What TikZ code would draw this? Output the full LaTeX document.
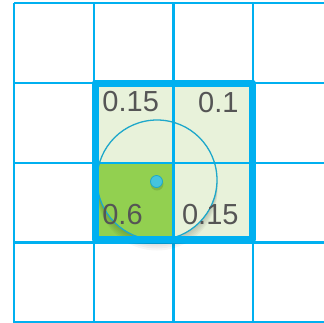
\documentclass[tikz,border=0pt]{standalone}
\usepackage{fontspec}
\setmainfont{Liberation Sans}
\definecolor{gridblue}{HTML}{00B0F0}
\definecolor{lightgreen}{HTML}{E8F2DA}
\definecolor{midgreen}{HTML}{92D050}
\definecolor{ringblue}{HTML}{1EA8CA}
\definecolor{dotfill}{HTML}{45C4DE}
\definecolor{txtgray}{HTML}{555555}
\tikzset{
  gridline/.style={draw=gridblue, line width=2.2pt},
  frame/.style={draw=gridblue, line width=7pt, line join=round},
  val/.style={font=\fontsize{29}{29}\selectfont, text=txtgray, inner sep=0pt},
}
\begin{document}
\begin{tikzpicture}[x=1pt,y=-1pt]
\useasboundingbox (0,0) rectangle (324,322);
% cell fills
\fill[lightgreen] (94,83) rectangle (253.2,242.4);
\fill[midgreen] (94,162.7) rectangle (173.5,242.4);
% grid
\foreach \gx in {14.1,93.8,173.5,253.2} {\draw[gridline] (\gx,3.3) -- (\gx,330);}
\foreach \gy in {3.3,83,162.7,242.4,322.1} {\draw[gridline] (14.1,\gy) -- (330,\gy);}
% circle shadow (below, outside circle)
\begin{scope}
  \clip (0,180) rectangle (324,322);
  \foreach \d in {2,4,6,8,10} {
    \fill[black, opacity=0.035, even odd rule] (157,180+\d) circle (60.5) (157,180) circle (60);
  }
\end{scope}
% circle
\coordinate (c) at (157,180);
\draw[ringblue, line width=1.3pt] (c) circle (60);
% frame
\draw[frame] (95,83) rectangle (252.8,239);
% centre dot
\fill[black, opacity=0.12] (157,184) circle (6.5);
\node[circle, minimum size=12pt, inner sep=0pt, fill=dotfill, draw=ringblue, line width=0.8pt] (dot) at (156.5,181.5) {};
% values
\node[val] (tl) at (130.7,102) {0.15};
\node[val] (tr) at (218.3,102.5) {0.1};
\node[val] (bl) at (122.5,215) {0.6};
\node[val] (br) at (210.3,214.2) {0.15};
\end{tikzpicture}
\end{document}
